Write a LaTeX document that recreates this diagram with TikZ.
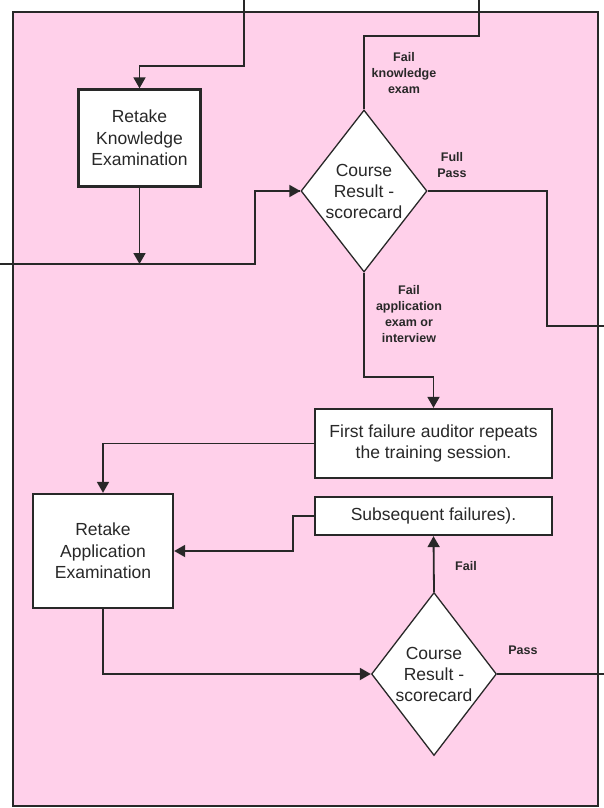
\documentclass[tikz,border=0pt]{standalone}
\usepackage{fontspec}
\setmainfont{Liberation Sans}
\usetikzlibrary{shapes.geometric,arrows.meta}
\definecolor{pinkbg}{RGB}{255,208,234}
\definecolor{ink}{RGB}{40,40,40}
\tikzset{
  x=1pt, y=-1pt,
  frame/.style={draw=ink, line width=2.8pt, fill=pinkbg, inner sep=0pt},
  procbox/.style={draw=ink, line width=2.3pt, fill=white, align=center, inner sep=0pt,
    font=\fontsize{17.5}{21.5}\selectfont, text=ink},
  decision/.style={diamond, draw=ink, line width=1.3pt, fill=white, align=center,
    inner sep=-20pt, minimum width=126pt, minimum height=162pt,
    font=\fontsize{17.5}{21}\selectfont, text=ink},
  conn/.style={draw=ink, line width=1.8pt},
  arr/.style={conn, -{Triangle[length=11pt,width=12pt]}},
  lbl/.style={align=center, inner sep=0pt, font=\fontsize{12.5}{16}\selectfont\bfseries, text=ink}
}
\begin{document}
\begin{tikzpicture}
\useasboundingbox (0,0) rectangle (604,808);
\fill[white] (0,0) rectangle (604,808);
\node[frame, minimum width=585pt, minimum height=794pt] (frame) at (305.5,409) {};

% nodes
\node[procbox, minimum width=122pt, minimum height=97pt] (know) at (139.5,138) {Retake\\Knowledge\\Examination};
\node[decision] (d1) at (364,191) {Course\\Result -\\scorecard};
\node[procbox, minimum width=237pt, minimum height=69pt] (first) at (433.5,443.5) {First failure auditor repeats\\the training session.};
\node[procbox, minimum width=237pt, minimum height=38pt] (subs) at (433.5,516) {Subsequent failures).};
\node[procbox, minimum width=140pt, minimum height=114pt] (rapp) at (103,551) {Retake\\Application\\Examination};
\node[decision, minimum width=125pt, minimum height=163pt] (d2) at (434,674) {Course\\Result -\\scorecard};

% free ends
\coordinate (inK) at (244,0);
\coordinate (inL) at (0,264);
\coordinate (outTop) at (479,0);
\coordinate (outPass) at (604,326);
\coordinate (outPass2) at (604,674);

% connectors
\draw[arr] (inK) -- (244,66) -- (know.north |- 0,66) -- (know.north);
\draw[conn] (inL) -- (255,264) -- (255,191) -- (d1.west);
\draw[arr] (255,191) -- (d1.west);
\draw[arr] (know.south) -- (know.south |- inL);
\draw[conn] (d1.north) -- (364,36) -- (479,36) -- (outTop);
\draw[conn] (d1.east) -- (547,191) -- (547,326) -- (outPass);
\draw[arr] (d1.south) -- (364,377) -- (first.north |- 0,377) -- (first.north);
\draw[arr] (first.west) -- (rapp.north |- first.west) -- (rapp.north);
\draw[arr] (subs.west) -- (293,516) -- (293,551) -- (rapp.east);
\draw[arr] (rapp.south) -- (rapp.south |- d2.west) -- (d2.west);
\draw[arr] (d2.north) -- (subs.south);
\draw[conn] (d2.east) -- (outPass2);

% labels
\node[lbl] (lfk) at (404,73) {Fail\\knowledge\\exam};
\node[lbl] (lfp) at (452,165) {Full\\Pass};
\node[lbl] (lfa) at (409,314) {Fail\\application\\exam or\\interview};
\node[lbl] (lf2) at (466,566) {Fail};
\node[lbl] (lp2) at (523,650) {Pass};
\end{tikzpicture}
\end{document}
